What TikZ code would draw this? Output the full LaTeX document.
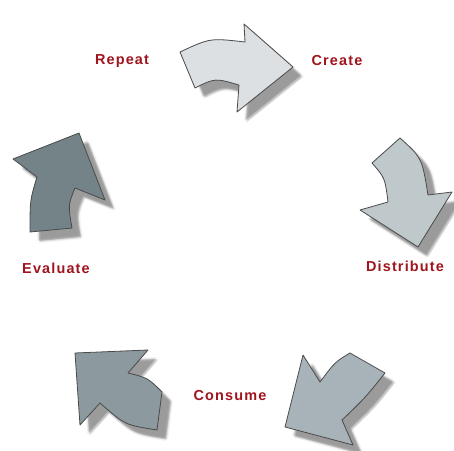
\documentclass[tikz,border=0pt]{standalone}
\usepackage{fontspec}
\setmainfont{Liberation Sans}
\definecolor{lbl}{HTML}{A0141E}
\definecolor{aA}{HTML}{DCE0E2}
\definecolor{aB}{HTML}{BFC8CB}
\definecolor{aC}{HTML}{A7B3B9}
\definecolor{aD}{HTML}{8C999E}
\definecolor{aE}{HTML}{748388}
\definecolor{edge}{HTML}{4A4A4A}
\tikzset{
  lab/.style={text=lbl, font=\fontsize{14.5}{16}\selectfont\bfseries\addfontfeature{LetterSpace=8}, inner sep=0pt},
  arrowshape/.style={draw=edge, line width=0.8bp, line join=round},
}
\def\arrA{(180,52) .. controls (210,38) .. (245,42) -- (244,24) -- (293,67) -- (237,112) -- (239,85) .. controls (215,78) .. (195,88) -- cycle}
\def\arrB{(372,163) -- (400,138) .. controls (422,158) .. (428,195) -- (452,192) -- (418,247) -- (360,210) -- (388,202) .. controls (385,178) .. cycle}
\def\arrC{(350,353) -- (385,373) .. controls (365,398) .. (342,420) -- (353,445) -- (285,427) -- (303,355) -- (320,382) .. controls (335,362) .. cycle}
\def\arrD{(75,353) -- (148,350) -- (128,373) .. controls (148,378) .. (162,392) -- (157,430) .. controls (125,425) .. (100,403) -- (80,425) -- cycle}
\def\arrE{(79,133) -- (105,200) -- (75,188) .. controls (68,205) .. (72,228) -- (30,232) .. controls (30,200) .. (37,177) -- (13,159) -- cycle}
\newcommand\shadowof[1]{%
  \foreach \dx/\dy/\op in {9/9/0.12, 8/8/0.07, 10/10/0.07, 9/7/0.05, 7/9/0.05, 11/9/0.05, 9/11/0.05}{%
    \fill[black, opacity=\op, shift={(\dx,\dy)}] #1;}%
}
\begin{document}
\begin{tikzpicture}[x=1bp, y=-1bp]
\useasboundingbox (0,0) rectangle (454,451);
\fill[white] (0,0) rectangle (454,451);
% shadows
\shadowof{\arrA}
\shadowof{\arrB}
\shadowof{\arrC}
\shadowof{\arrD}
\shadowof{\arrE}
% arrows
\filldraw[arrowshape, fill=aA] \arrA;
\filldraw[arrowshape, fill=aB] \arrB;
\filldraw[arrowshape, fill=aC] \arrC;
\filldraw[arrowshape, fill=aD] \arrD;
\filldraw[arrowshape, fill=aE] \arrE;
% labels
\node[lab] (repeat) at (122,61) {Repeat};
\node[lab] (create) at (337,61) {Create};
\node[lab] (distribute) at (405,266) {Distribute};
\node[lab] (consume) at (230,396) {Consume};
\node[lab] (evaluate) at (56,268) {Evaluate};
\end{tikzpicture}
\end{document}
